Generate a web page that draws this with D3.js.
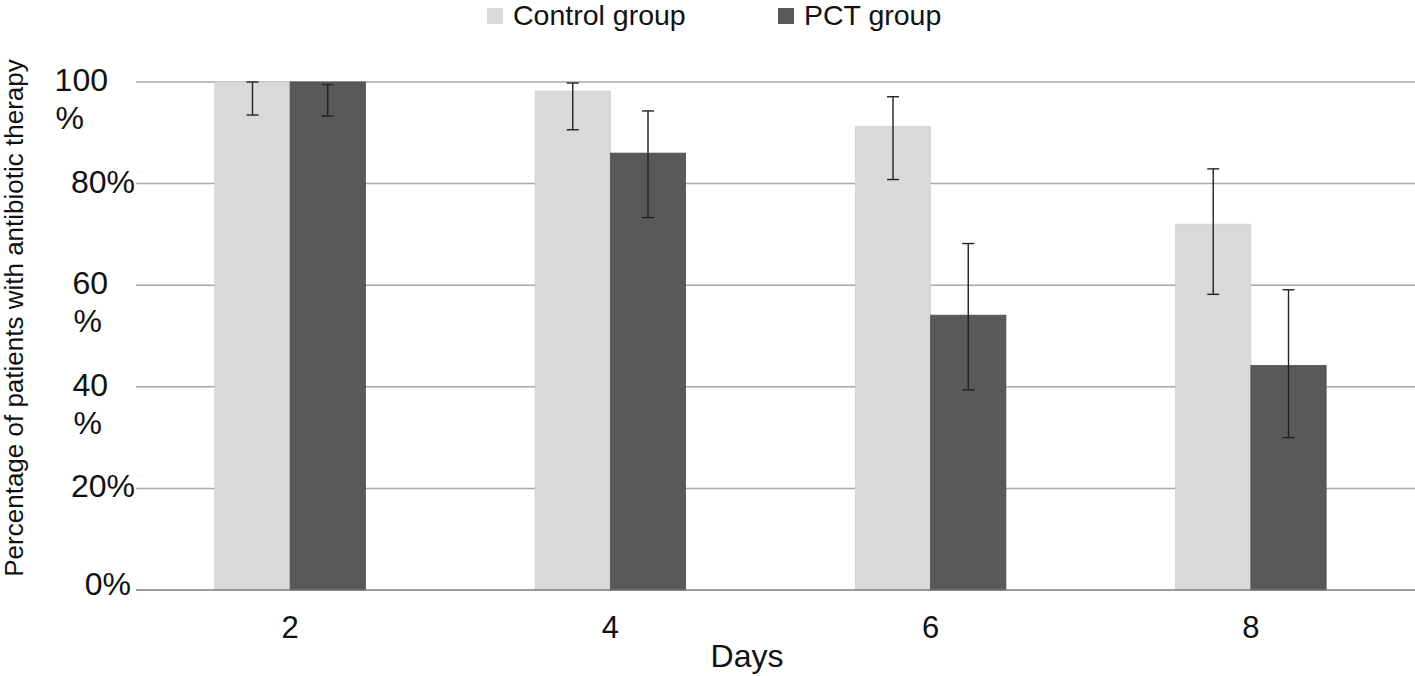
<!DOCTYPE html>
<html>
<head>
<meta charset="utf-8">
<script src="https://cdn.jsdelivr.net/npm/d3@7"></script>
<style>
  html, body { margin: 0; padding: 0; background: #fff; }
  svg { display: block; font-family: "Liberation Sans", Arial, Helvetica, sans-serif; }
</style>
</head>
<body>
<svg id="chart" width="1415" height="676"></svg>
<script>
// ---- data ----
const days = ["2", "4", "6", "8"];
const seriesNames = ["Control group", "PCT group"];
const controlValues = [100, 98.2, 91.2, 72.0];
const controlLow    = [93.5, 90.6, 80.8, 58.2];
const controlHigh   = [100, 99.8, 97.1, 82.9];
const pctValues     = [100, 86.0, 54.1, 44.2];
const pctLow        = [93.3, 73.3, 39.4, 30.0];
const pctHigh       = [99.5, 94.3, 68.2, 59.1];
const yTickValues   = [0, 20, 40, 60, 80, 100];
const yTickLabels   = [["0%"], ["20%"], ["40", "%"], ["60", "%"], ["80%"], ["100", "%"]];
const xTitle = "Days";
const yTitle = "Percentage of patients with antibiotic therapy";

// ---- setup ----
const colors = ["#d9d9d9", "#595959"];
const svg = d3.select("#chart");

const x = d3.scaleBand().domain(days).range([130, 1411]).paddingInner(0.53).paddingOuter(0.265);
const xs = d3.scaleBand().domain(seriesNames).range([0, x.bandwidth()]);
const y = d3.scaleLinear().domain([0, 100]).range([590, 82]);

const gridX0 = 136, gridX1 = 1415;

// gridlines
svg.append("g").selectAll("line").data(yTickValues.filter(v => v > 0)).join("line")
  .attr("x1", gridX0).attr("x2", gridX1)
  .attr("y1", d => y(d)).attr("y2", d => y(d))
  .attr("stroke", "#a8a8a8").attr("stroke-width", 1.5);

// bars
const table = days.map((d, i) => ({
  day: d,
  items: [
    { s: seriesNames[0], v: controlValues[i], lo: controlLow[i], hi: controlHigh[i], c: colors[0] },
    { s: seriesNames[1], v: pctValues[i], lo: pctLow[i], hi: pctHigh[i], c: colors[1] }
  ]
}));

const groups = svg.append("g").selectAll("g").data(table).join("g")
  .attr("transform", d => `translate(${x(d.day)},0)`);

groups.selectAll("rect").data(d => d.items).join("rect")
  .attr("x", d => xs(d.s))
  .attr("width", xs.bandwidth())
  .attr("y", d => y(d.v))
  .attr("height", d => y(0) - y(d.v))
  .attr("fill", d => d.c)
  .attr("stroke", (d, i) => i === 0 ? "#cfcfcf" : "#4f4f4f")
  .attr("stroke-width", 0.8);

// baseline axis
svg.append("line").attr("x1", gridX0).attr("x2", gridX1)
  .attr("y1", y(0)).attr("y2", y(0))
  .attr("stroke", "#7a7a7a").attr("stroke-width", 1.5);

// error bars
const eb = groups.selectAll("g.err").data(d => d.items).join("g").attr("class", "err");
const cap = 6;
eb.append("line")
  .attr("x1", d => xs(d.s) + xs.bandwidth() / 2).attr("x2", d => xs(d.s) + xs.bandwidth() / 2)
  .attr("y1", d => y(d.hi)).attr("y2", d => y(d.lo));
eb.append("line")
  .attr("x1", d => xs(d.s) + xs.bandwidth() / 2 - cap).attr("x2", d => xs(d.s) + xs.bandwidth() / 2 + cap)
  .attr("y1", d => y(d.hi)).attr("y2", d => y(d.hi));
eb.append("line")
  .attr("x1", d => xs(d.s) + xs.bandwidth() / 2 - cap).attr("x2", d => xs(d.s) + xs.bandwidth() / 2 + cap)
  .attr("y1", d => y(d.lo)).attr("y2", d => y(d.lo));
eb.selectAll("line").attr("stroke", "#222").attr("stroke-width", 1.4);

// y tick labels
const yl = svg.append("g").attr("font-size", 32).attr("fill", "#111");
yTickValues.forEach((v, i) => {
  const lines = yTickLabels[i];
  const base = v === 0 ? y(v) + 5 : y(v) + 9;
  if (lines.length === 1) {
    yl.append("text").attr("x", v === 0 ? 131 : 135).attr("y", base)
      .attr("text-anchor", "end").text(lines[0]);
  } else {
    const t1 = yl.append("text").attr("x", 108).attr("y", base)
      .attr("text-anchor", "end").text(lines[0]);
    const w = t1.node().getComputedTextLength();
    yl.append("text").attr("x", 108 - w + 1).attr("y", base + 38)
      .attr("text-anchor", "start").text(lines[1]);
  }
});

// x tick labels
svg.append("g").selectAll("text").data(days).join("text")
  .attr("x", d => x(d) + x.bandwidth() / 2)
  .attr("y", 638)
  .attr("text-anchor", "middle")
  .attr("font-size", 31).attr("fill", "#111")
  .text(d => d);

// axis titles
svg.append("text").attr("x", 747).attr("y", 667).attr("text-anchor", "middle")
  .attr("font-size", 32).attr("fill", "#111").text(xTitle);
svg.append("text").attr("transform", "translate(23,318) rotate(-90)")
  .attr("text-anchor", "middle").attr("font-size", 26).attr("fill", "#111").text(yTitle);

// legend
const legendX = [487, 778];
const lg = svg.append("g").selectAll("g").data(seriesNames).join("g")
  .attr("transform", (d, i) => `translate(${legendX[i]},0)`);
lg.append("rect").attr("x", 0).attr("y", 8).attr("width", 16).attr("height", 16)
  .attr("fill", (d, i) => colors[i]);
lg.append("text").attr("x", 26).attr("y", 25).attr("font-size", 28.5).attr("fill", "#111")
  .text(d => d);
</script>
</body>
</html>
